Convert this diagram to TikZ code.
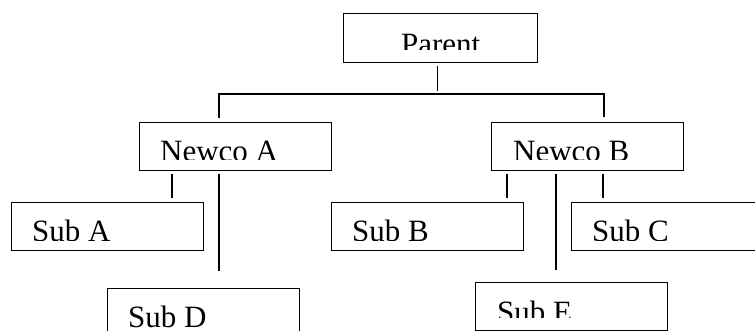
\documentclass[tikz,border=0pt]{standalone}
\usepackage{fontspec}
\setmainfont{Liberation Serif}
\begin{document}
\begin{tikzpicture}[x=1pt,y=-1pt,
  box/.style={draw, line width=1.4pt, rectangle, inner sep=0pt, anchor=north west, minimum width=192pt, minimum height=48pt},
  conn/.style={draw, line width=1.4pt},
  lbl/.style={inner sep=0pt, font=\fontsize{31}{36}\selectfont}]
\useasboundingbox (0,0) rectangle (755,331);
% boxes
\node[box, minimum width=194pt, minimum height=49pt] (parent) at (343,13) {};
\node[box] (newcoA) at (139,122) {};
\node[box] (newcoB) at (491,122) {};
\node[box] (subA) at (11,202) {};
\node[box] (subB) at (331,202) {};
\node[box] (subC) at (571,202) {};
\node[box, minimum height=49pt] (subD) at (107,288) {};
\node[box] (subE) at (475,282) {};
% texts (clipped at the bottom as in the original)
\begin{scope}
  \clip (0,0) rectangle (755,50);
  \node[lbl, anchor=base] (tParent) at ([shift={(0,42)}]parent.north) {Parent};
\end{scope}
\begin{scope}
  \clip (0,100) rectangle (755,160);
  \node[lbl, anchor=base west] (tNewcoA) at ([shift={(21,40)}]newcoA.north west) {Newco A};
  \node[lbl, anchor=base west] (tNewcoB) at ([shift={(22,40)}]newcoB.north west) {Newco B};
\end{scope}
\begin{scope}
  \clip (0,200) rectangle (755,241);
  \node[lbl, anchor=base west] (tSubA) at ([shift={(21,40)}]subA.north west) {Sub A};
  \node[lbl, anchor=base west] (tSubB) at ([shift={(21,40)}]subB.north west) {Sub B};
  \node[lbl, anchor=base west] (tSubC) at ([shift={(21,40)}]subC.north west) {Sub C};
\end{scope}
\begin{scope}
  \clip (0,280) rectangle (755,327);
  \node[lbl, anchor=base west] (tSubD) at ([shift={(21,39)}]subD.north west) {Sub D};
\end{scope}
\begin{scope}
  \clip (0,280) rectangle (755,317);
  \node[lbl, anchor=base west] (tSubE) at ([shift={(22,40)}]subE.north west) {Sub E};
\end{scope}
% connectors
\draw[conn] ([shift={(-3,3)}]parent.south) -- ([shift={(-3,28)}]parent.south);
\draw[conn] ([shift={(80,-4)}]newcoA.north west) |- ([shift={(113,-28)}]newcoB.north west) -- ([shift={(113,-5)}]newcoB.north west);
\draw[conn] ([shift={(33,3)}]newcoA.south west) -- ([shift={(161,-4)}]subA.north west);
\draw[conn] ([shift={(80,3)}]newcoA.south west) -- ([shift={(112,-17)}]subD.north west);
\draw[conn] ([shift={(16,3)}]newcoB.south west) -- ([shift={(176,-4)}]subB.north west);
\draw[conn] ([shift={(112,3)}]newcoB.south west) -- ([shift={(32,-4)}]subC.north west);
\draw[conn] ([shift={(65,3)}]newcoB.south west) -- ([shift={(81,-12)}]subE.north west);
\end{tikzpicture}
\end{document}
